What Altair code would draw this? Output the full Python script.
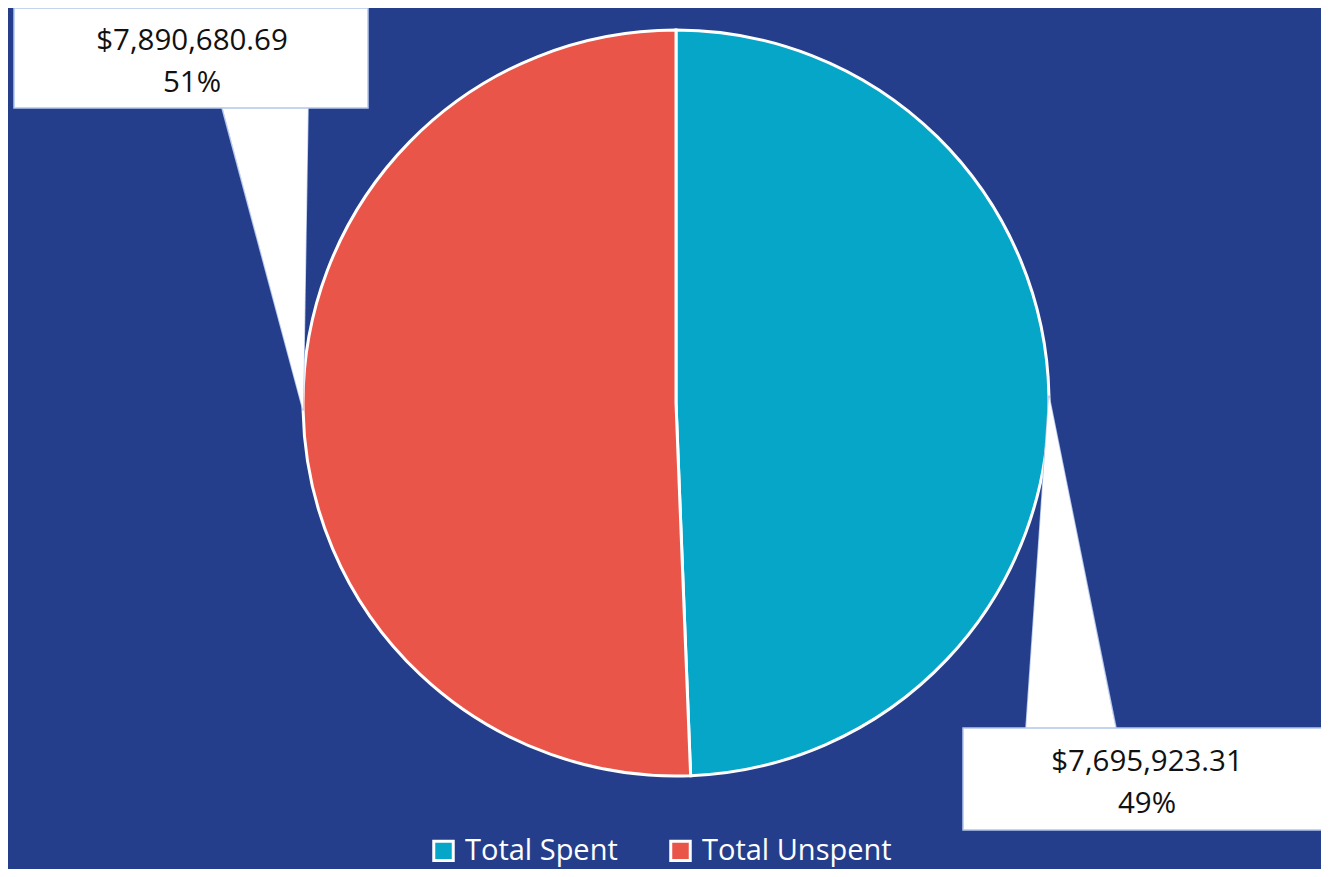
import math
import altair as alt
import pandas as pd

# ---- data ----
categories = ["Total Spent", "Total Unspent"]
values = [7695923.31, 7890680.69]
amount_labels = ["$7,695,923.31", "$7,890,680.69"]
percent_labels = ["49%", "51%"]
colors = ["#06A6C9", "#EA5549"]

# ---- layout (pixel space of the page) ----
OFF = 8
W, H = 1313, 861
BG = "#243E8C"
BORDER = "#B4C7EA"
CX, CY, R = 676, 403, 373
FONT = "Open Sans"

# callout boxes (layout): x0, x1, y0, y1, pointer base xl, xr, text center x, first baseline y
boxes = {
    "Total Unspent": dict(x0=14, x1=368, y0=8, y1=108, bl=222, br=308, tx=192, ty=50),
    "Total Spent": dict(x0=963, x1=1335, y0=728, y1=830, bl=1026, br=1116, tx=1147, ty=771),
}

total = sum(values)
start = 0.0
rows_area, rows_rule, rows_box, rows_text = [], [], [], []
for cat, v, amt, pct in zip(categories, values, amount_labels, percent_labels):
    frac = v / total
    mid = (start + frac / 2) * 2 * math.pi
    start += frac
    ax = CX + R * math.sin(mid)
    ay = CY - R * math.cos(mid)
    b = boxes[cat]
    by = b["y1"] if ay > b["y1"] else b["y0"]
    inset = -2 if by == b["y1"] else 2
    rows_area.append(dict(cat=cat, y=by + inset, xl=b["bl"], xr=b["br"]))
    rows_area.append(dict(cat=cat, y=ay, xl=ax, xr=ax))
    rows_rule.append(dict(x=b["bl"], y=by, x2=ax, y2=ay))
    rows_rule.append(dict(x=b["br"], y=by, x2=ax, y2=ay))
    rows_box.append(dict(x=b["x0"], x2=b["x1"], y=b["y0"], y2=b["y1"]))
    rows_text.append(dict(x=b["tx"], y=b["ty"], t=amt + "\n" + pct))

pie_df = pd.DataFrame({"category": categories, "value": values, "order": [0, 1]})

xs = alt.Scale(domain=[OFF, OFF + W], nice=False, zero=False)
ys = alt.Scale(domain=[OFF, OFF + H], nice=False, zero=False, reverse=True)

pie = alt.Chart(pie_df).mark_arc(
    radius=R, stroke="white", strokeWidth=3, x=CX - OFF, y=CY - OFF
).encode(
    theta=alt.Theta("value:Q", stack=True),
    order=alt.Order("order:Q"),
    color=alt.Color(
        "category:N",
        scale=alt.Scale(domain=categories, range=colors),
        legend=alt.Legend(
            title=None,
            orient="none",
            direction="horizontal",
            legendX=429 - OFF,
            legendY=836 - OFF,
            symbolType="square",
            symbolSize=380,
            symbolStrokeColor="white",
            symbolStrokeWidth=3,
            symbolOpacity=1,
            labelColor="white",
            labelFont=FONT,
            labelFontSize=29,
            labelOffset=7,
            labelLimit=0,
            columnPadding=46,
            padding=0,
        ),
    ),
)

boxes_layer = alt.Chart(pd.DataFrame(rows_box)).mark_rect(
    fill="white", stroke=BORDER, strokeWidth=1.5
).encode(
    x=alt.X("x:Q", scale=xs, axis=None),
    x2="x2:Q",
    y=alt.Y("y:Q", scale=ys, axis=None),
    y2="y2:Q",
)

pointer = alt.Chart(pd.DataFrame(rows_area)).mark_area(
    orient="horizontal", fill="white"
).encode(
    y=alt.Y("y:Q", scale=ys, axis=None),
    x=alt.X("xl:Q", scale=xs, axis=None),
    x2="xr:Q",
    detail="cat:N",
)

edges = alt.Chart(pd.DataFrame(rows_rule)).mark_rule(
    stroke=BORDER, strokeWidth=1.5
).encode(
    x=alt.X("x:Q", scale=xs, axis=None),
    y=alt.Y("y:Q", scale=ys, axis=None),
    x2="x2:Q",
    y2="y2:Q",
)

texts = alt.Chart(pd.DataFrame(rows_text)).mark_text(
    font=FONT, fontSize=29.5, color="#111111", align="center",
    baseline="alphabetic", lineBreak="\n", lineHeight=42
).encode(
    x=alt.X("x:Q", scale=xs, axis=None),
    y=alt.Y("y:Q", scale=ys, axis=None),
    text="t:N",
)

chart = alt.layer(pie, edges, pointer, boxes_layer, texts).properties(
    width=W, height=H, padding=0, background=BG
).configure_view(stroke=None, clip=True)

chart.save("out.html", embed_options={"renderer": "svg", "actions": False})
